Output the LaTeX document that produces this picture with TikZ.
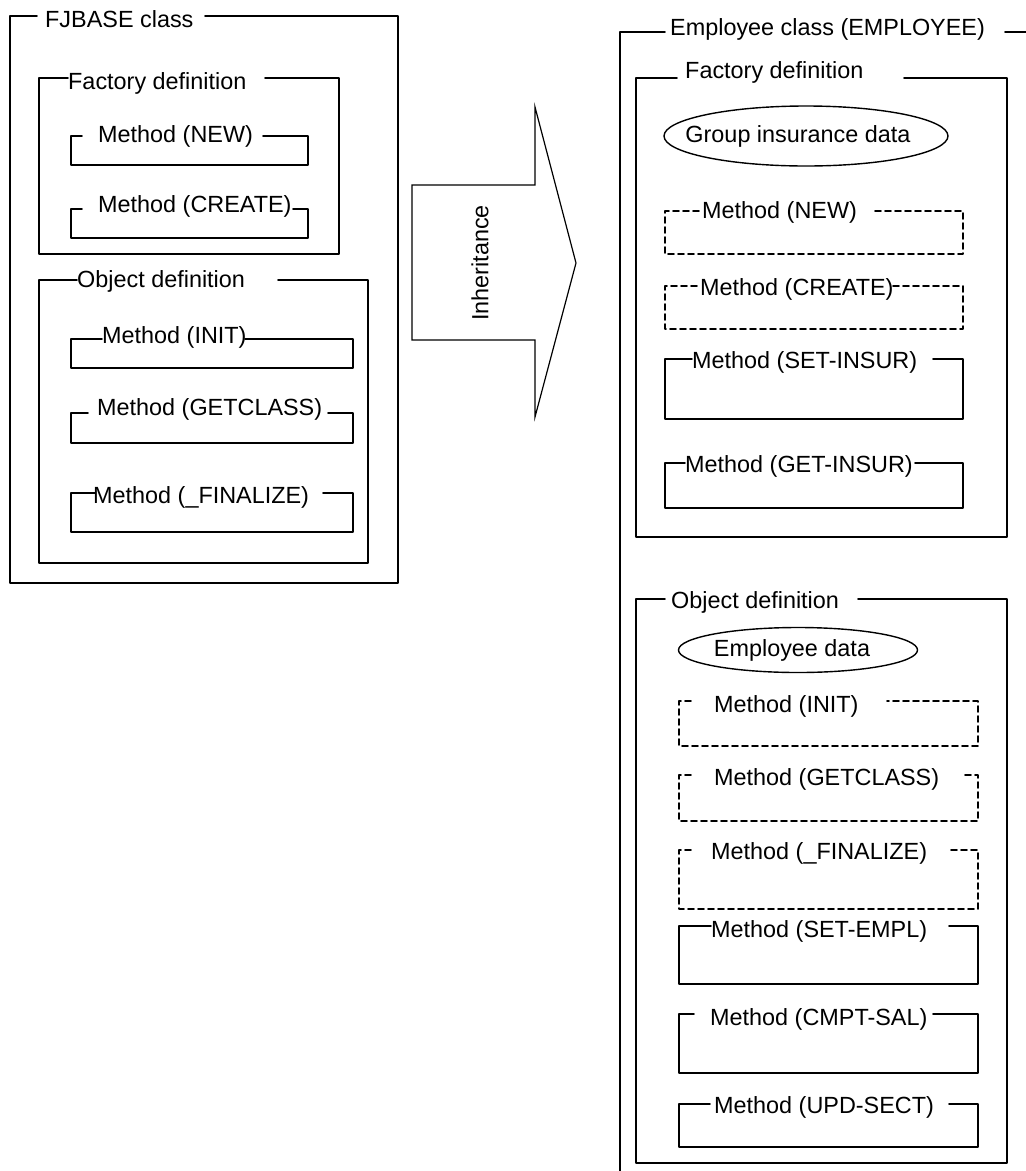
\documentclass[tikz,border=0pt]{standalone}
\usepackage{fontspec}
\setmainfont{Liberation Sans}
\usetikzlibrary{shapes.geometric}
\tikzset{
  frame/.style={line width=1.6pt, line cap=round, line join=round},
  ghost/.style={frame, dash pattern=on 6pt off 4pt},
  title/.style={anchor=base west, inner sep=0pt},
  datum/.style={draw, ellipse, line width=1.4pt, inner sep=0pt},
}
\begin{document}
\begin{tikzpicture}[x=1pt, y=-1pt, font=\fontsize{23.4}{28}\selectfont]
\useasboundingbox (0,0) rectangle (1026,1171);
% boxes: left/top/right/bottom/gap start/gap end/text x/baseline/text
\foreach \l/\t/\r/\b/\ga/\gb/\tx/\by/\txt [count=\i] in {
  10/16/398/583/37/205/45/27/FJBASE class,
  39/78/339/254/68/265/68/89/Factory definition,
  71/136/308/165/82/263/98/142/Method (NEW),
  71/209/308/238/82/293/98/212/Method (CREATE),
  39/280/368/563/77/278/77/287/Object definition,
  71/339/353/368/102/245/102/343/Method (INIT),
  71/413/353/443/88/328/97/415/Method (GETCLASS),
  71/493/353/532/95/323/93/503/Method (\_FINALIZE),
  636/78/1007/537/677/904/685/78/Factory definition,
  665/359/963/419/692/933/692/368/Method (SET-INSUR),
  665/463/963/508/685/915/685/472/Method (GET-INSUR),
  636/599/1007/1163/665/858/671/608/Object definition,
  679/926/978/984/711/949/711/937/Method (SET-EMPL),
  679/1014/978/1073/694/933/710/1025/Method (CMPT-SAL),
  679/1104/978/1147/710/949/714/1113/Method (UPD-SECT)}
{
  \draw[frame] (\ga,\t) -- (\l,\t) -- (\l,\b) -- (\r,\b) -- (\r,\t) -- (\gb,\t);
  \node[title] (box\i) at (\tx,\by) {\txt};
}
% inherited methods
\foreach \l/\t/\r/\b/\ga/\gb/\tx/\by/\txt [count=\i] in {
  665/211/963/254/699/874/702/218/Method (NEW),
  665/286/963/329/697/893/700/295/Method (CREATE),
  679/701/978/746/691/887/714/712/Method (INIT),
  679/775/978/821/691/963/714/785/Method (GETCLASS),
  679/850/978/909/691/948/711/859/Method (\_FINALIZE)}
{
  \draw[ghost] (\ga,\t) -- (\l,\t) -- (\l,\b) -- (\r,\b) -- (\r,\t) -- (\gb,\t);
  \node[title] (inh\i) at (\tx,\by) {\txt};
}
% employee class, runs off the page
\draw[frame] (665,32) -- (620,32) -- (620,1171) (1005,32) -- (1026,32);
\node[title] (emp) at (670,35) {Employee class (EMPLOYEE)};
\node[datum, minimum width=284pt, minimum height=60pt] (grp) at (806,136) {};
\node (grptxt) at (798,136) {Group insurance data};
\node[datum, minimum width=239pt, minimum height=45pt] (empd) at (798,650) {};
\node (empdtxt) at (792,650) {Employee data};
% inheritance arrow
\draw[line width=1.2pt, line join=miter] (412,185) -- (535,185) -- (535,107) -- (576,263)
  -- (535,417) -- (535,340) -- (412,340) -- cycle;
\node[rotate=90] (inh) at (480,263) {Inheritance};
\end{tikzpicture}
\end{document}
